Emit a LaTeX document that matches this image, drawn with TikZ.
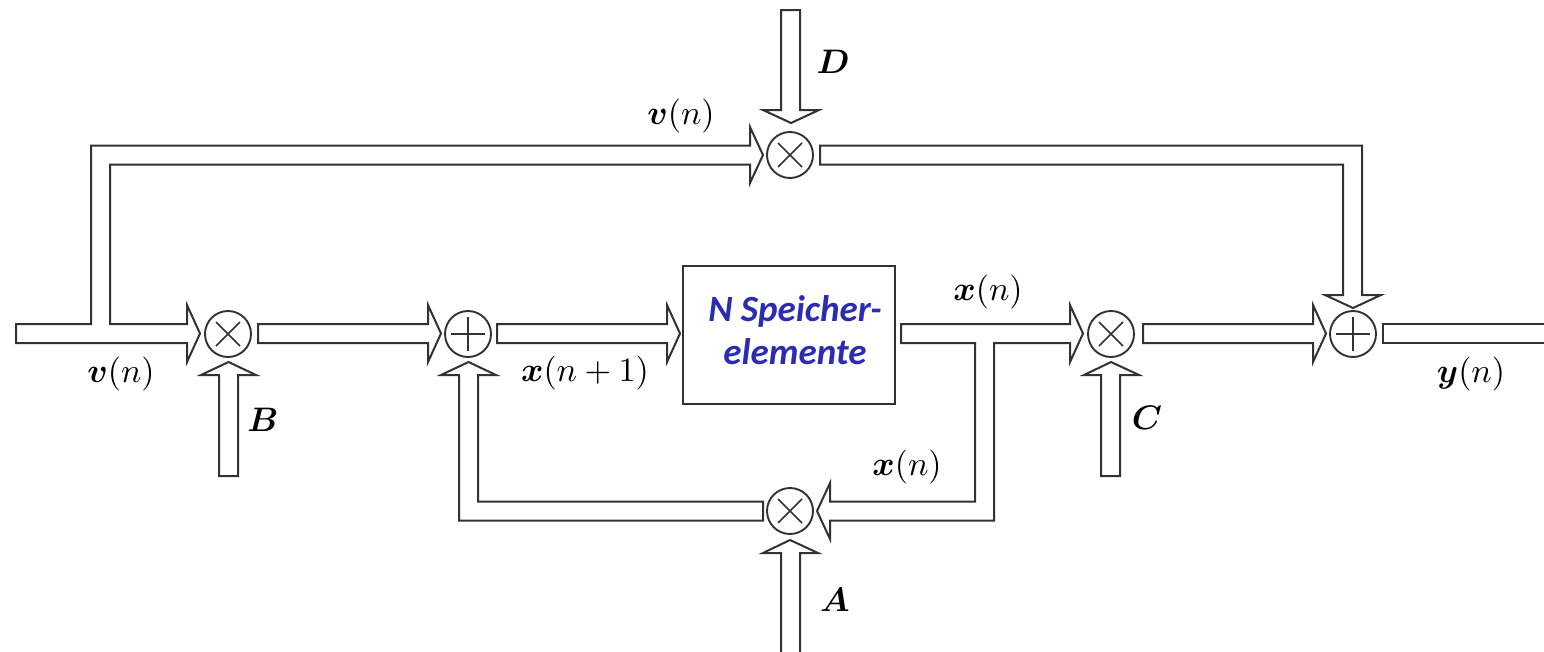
\documentclass[tikz,border=0pt]{standalone}
\usepackage{amsmath,bm}
\usepackage{fontspec}
\newfontfamily\boxfont{Carlito}
\definecolor{ln}{RGB}{50,50,50}
\definecolor{blu}{RGB}{44,44,178}
\tikzset{
  every picture/.style={line join=miter},
  arr/.style={draw=ln, line width=2pt, fill=white},
  mult/.style={circle, draw=ln, line width=1.9pt, minimum size=46pt, inner sep=0pt,
    path picture={\draw[ln, line width=1.7pt, shift={(path picture bounding box.center)}] (-12,-12) -- (12,12) (-12,12) -- (12,-12);}},
  addr/.style={circle, draw=ln, line width=1.9pt, minimum size=46pt, inner sep=0pt,
    path picture={\draw[ln, line width=1.7pt, shift={(path picture bounding box.center)}] (-17,0) -- (17,0) (0,-17) -- (0,17);}},
  lab/.style={inner sep=0pt, scale=3.4},
  blockbox/.style={draw=ln, line width=2pt, minimum width=212pt, minimum height=138pt, inner sep=0pt}
}
\begin{document}
\begin{tikzpicture}[x=1pt,y=-1pt]
\useasboundingbox (0,0) rectangle (1544,651);
% nodes
\node[mult] (m1) at (228,334) {};
\node[addr] (s1) at (468,334) {};
\node[blockbox] (box) at (789,335) {};
\node[align=center, inner sep=0pt, text=blu, font=\boxfont\bfseries\itshape\fontsize{37}{43}\selectfont] (boxtxt) at (795,330) {N Speicher-\\elemente};
\node[mult] (mc) at (1111,334) {};
\node[addr] (s2) at (1353,334) {};
\node[mult] (md) at (790,155) {};
\node[mult] (ma) at (790,511) {};
% input with branch to D multiplier
\draw[arr] (16,324) -- (91,324) -- (91,145.5) -- (750,145.5) -- (750,127) -- (763,155) -- (750,183) -- (750,164.5) -- (110,164.5) -- (110,324) -- (187,324) -- (187,305) -- (200,333.5) -- (187,362) -- (187,343) -- (16,343) -- cycle;
% m1 -> s1
\draw[arr] (258,324) -- (428,324) -- (428,305) -- (441,333.5) -- (428,362) -- (428,343) -- (258,343) -- cycle;
% s1 -> box
\draw[arr] (497,324) -- (667,324) -- (667,305) -- (680,333.5) -- (667,362) -- (667,343) -- (497,343) -- cycle;
% box -> mc and branch to ma
\draw[arr] (901,324) -- (1070,324) -- (1070,305) -- (1083,333.5) -- (1070,362) -- (1070,343) -- (994,343) -- (994,520.5) -- (830,520.5) -- (830,539) -- (817,511) -- (830,483) -- (830,501.5) -- (975,501.5) -- (975,343) -- (901,343) -- cycle;
% ma -> s1 feedback
\draw[arr] (763,501.5) -- (478,501.5) -- (478,375) -- (496,375) -- (468.5,362) -- (441,375) -- (459,375) -- (459,520.5) -- (763,520.5) -- cycle;
% B
\draw[arr] (219,476) -- (219,375) -- (201,375) -- (228.5,362) -- (256,375) -- (238,375) -- (238,476) -- cycle;
% C
\draw[arr] (1101,476) -- (1101,375) -- (1084,375) -- (1111,362) -- (1139,375) -- (1120,375) -- (1120,476) -- cycle;
% mc -> s2
\draw[arr] (1143,324) -- (1313,324) -- (1313,305) -- (1326,333.5) -- (1313,362) -- (1313,343) -- (1143,343) -- cycle;
% md -> s2
\draw[arr] (820,145.5) -- (1362,145.5) -- (1362,295) -- (1381,295) -- (1353,308) -- (1325,295) -- (1343,295) -- (1343,164.5) -- (820,164.5) -- cycle;
% output
\draw[arr] (1545,324) -- (1383,324) -- (1383,343) -- (1545,343);
% D
\draw[arr] (781,10) -- (800,10) -- (800,110) -- (819,110) -- (791,123) -- (763,110) -- (781,110) -- cycle;
% A
\draw[arr] (781,652) -- (781,553) -- (763,553) -- (790,540) -- (818,553) -- (800,553) -- (800,652);
% labels
\node[lab] (lD) at (833,62) {$\bm{D}$};
\node[lab] (lvt) at (681,116) {$\bm{v}(n)$};
\node[lab] (lvl) at (121,374) {$\bm{v}(n)$};
\node[lab] (lB) at (263,420) {$\bm{B}$};
\node[lab] (lx1) at (585,373) {$\bm{x}(n+1)$};
\node[lab] (lxt) at (988,292) {$\bm{x}(n)$};
\node[lab] (lxb) at (907,467) {$\bm{x}(n)$};
\node[lab] (lC) at (1147,418) {$\bm{C}$};
\node[lab] (ly) at (1471,374) {$\bm{y}(n)$};
\node[lab] (lA) at (835,600) {$\bm{A}$};
\end{tikzpicture}
\end{document}
